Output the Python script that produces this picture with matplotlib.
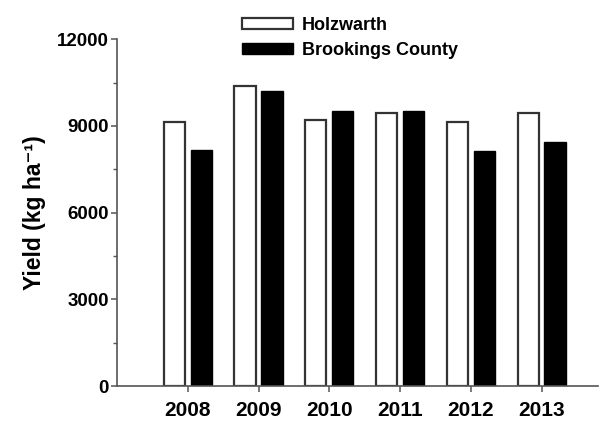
import numpy as np
import matplotlib.pyplot as plt
from matplotlib.ticker import MultipleLocator

plt.rcParams['font.family'] = ['Liberation Sans', 'DejaVu Sans']
plt.rcParams['font.weight'] = 'bold'

years = [2008, 2009, 2010, 2011, 2012, 2013]
holzwarth = [9120, 10380, 9190, 9430, 9130, 9450]
brookings = [8160, 10200, 9520, 9520, 8130, 8440]

x = np.array(years)
fig = plt.figure(figsize=(6.03, 4.21), dpi=100)
ax = fig.add_axes([0.194, 0.083, 0.798, 0.824])

w = 0.3
ax.bar(x - 0.19, holzwarth, width=w, color='white', edgecolor='#333333',
       linewidth=1.6, label='Holzwarth')
ax.bar(x + 0.19, brookings, width=w, color='black', edgecolor='black',
       linewidth=1.0, label='Brookings County')

ax.set_xlim(2007, 2013.8)
ax.set_ylim(0, 12000)
ax.set_xticks(years)
ax.set_yticks([0, 3000, 6000, 9000, 12000])
ax.yaxis.set_minor_locator(MultipleLocator(1500))

for s in ['top', 'right']:
    ax.spines[s].set_visible(False)
for s in ['left', 'bottom']:
    ax.spines[s].set_color('#555555')
    ax.spines[s].set_linewidth(1.2)

ax.tick_params(axis='both', which='major', length=4, width=1.1, color='#555555')
ax.tick_params(axis='y', which='minor', length=3, width=1.0, color='#555555')
ax.tick_params(axis='y', labelsize=13.5, pad=2)
ax.tick_params(axis='x', labelsize=15, pad=7)

ax.set_ylabel('Yield (kg ha\u207b\u00b9)', fontsize=16.5, fontweight='bold', labelpad=8)

leg = ax.legend(loc='upper left', bbox_to_anchor=(0.245, 1.085), frameon=False,
                fontsize=13, handlelength=2.8, handleheight=0.5,
                handletextpad=0.5, labelspacing=0.45, borderaxespad=0)

plt.savefig('out.png', dpi=100)
